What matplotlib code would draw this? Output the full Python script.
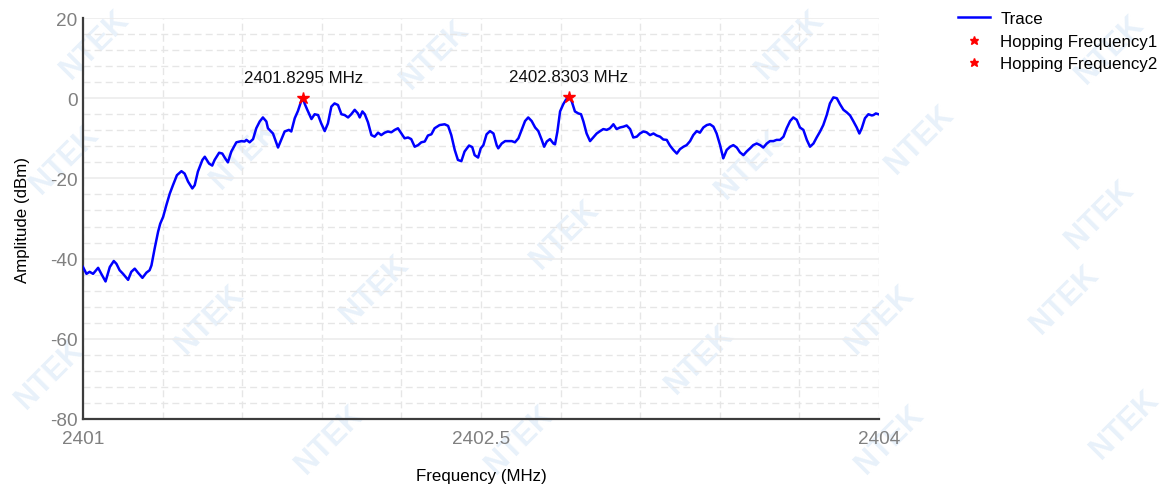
import numpy as np
import matplotlib
matplotlib.use("Agg")
import matplotlib.pyplot as plt
from matplotlib.ticker import FixedLocator, MultipleLocator

plt.rcParams['font.family'] = ['Liberation Sans', 'DejaVu Sans']
plt.rcParams['axes.unicode_minus'] = False

# ---------------- data ----------------
freq_mhz = [
    2401.000, 2401.013, 2401.025, 2401.038, 2401.057, 2401.069, 2401.085, 2401.101,
    2401.116, 2401.126, 2401.138, 2401.151, 2401.170, 2401.182, 2401.195, 2401.207,
    2401.224, 2401.239, 2401.251, 2401.258, 2401.270, 2401.283, 2401.291, 2401.302,
    2401.314, 2401.327, 2401.339, 2401.354, 2401.371, 2401.383, 2401.396, 2401.412,
    2401.421, 2401.433, 2401.450, 2401.459, 2401.475, 2401.487, 2401.496, 2401.513,
    2401.525, 2401.534, 2401.546, 2401.559, 2401.578, 2401.597, 2401.609, 2401.616,
    2401.628, 2401.641, 2401.653, 2401.666, 2401.678, 2401.691, 2401.697, 2401.716,
    2401.735, 2401.747, 2401.760, 2401.776, 2401.785, 2401.798, 2401.810, 2401.823,
    2401.8295, 2401.835, 2401.844, 2401.861, 2401.873, 2401.886, 2401.898, 2401.911,
    2401.923, 2401.936, 2401.948, 2401.961, 2401.974, 2401.986, 2401.999, 2402.011,
    2402.024, 2402.036, 2402.043, 2402.053, 2402.062, 2402.074, 2402.087, 2402.099,
    2402.112, 2402.124, 2402.137, 2402.149, 2402.162, 2402.175, 2402.187, 2402.200,
    2402.212, 2402.225, 2402.237, 2402.250, 2402.263, 2402.275, 2402.288, 2402.300,
    2402.313, 2402.325, 2402.344, 2402.363, 2402.376, 2402.388, 2402.401, 2402.413,
    2402.426, 2402.438, 2402.455, 2402.467, 2402.476, 2402.489, 2402.499,
    2402.509, 2402.521, 2402.534, 2402.547, 2402.559, 2402.565, 2402.578, 2402.591,
    2402.603, 2402.616, 2402.628, 2402.641, 2402.653, 2402.666, 2402.678, 2402.691,
    2402.704, 2402.716, 2402.729, 2402.738, 2402.748, 2402.760, 2402.773, 2402.779,
    2402.788, 2402.798, 2402.810, 2402.820, 2402.8303, 2402.842, 2402.854, 2402.867,
    2402.877, 2402.886, 2402.898, 2402.911, 2402.923, 2402.936, 2402.949, 2402.961,
    2402.974, 2402.986, 2402.999, 2403.011, 2403.024, 2403.037, 2403.049, 2403.062,
    2403.074, 2403.087, 2403.099, 2403.112, 2403.124, 2403.137, 2403.150, 2403.162,
    2403.175, 2403.187, 2403.200, 2403.212, 2403.225, 2403.238, 2403.250, 2403.263,
    2403.275, 2403.288, 2403.300, 2403.313, 2403.325, 2403.338, 2403.351, 2403.363,
    2403.376, 2403.388, 2403.401, 2403.413, 2403.426, 2403.439, 2403.451, 2403.464,
    2403.476, 2403.489, 2403.501, 2403.514, 2403.526, 2403.539, 2403.552, 2403.564,
    2403.577, 2403.589, 2403.602, 2403.614, 2403.627, 2403.640, 2403.652, 2403.665,
    2403.677, 2403.690, 2403.702, 2403.715, 2403.728, 2403.740, 2403.753, 2403.765,
    2403.778, 2403.790, 2403.803, 2403.815, 2403.828, 2403.841, 2403.853, 2403.866,
    2403.878, 2403.891, 2403.903, 2403.916, 2403.926, 2403.935, 2403.947, 2403.960,
    2403.973, 2403.979, 2403.988, 2403.998,
]
amplitude_dbm = [
    -42.1, -43.8, -43.3, -43.8, -42.3, -43.8, -45.7, -42.1,
    -40.6, -41.3, -42.9, -43.8, -45.3, -43.3, -42.5, -43.5,
    -44.8, -43.5, -42.9, -41.7, -37.5, -33.3, -31.3, -29.6,
    -26.7, -23.8, -21.7, -19.2, -18.2, -18.8, -20.8, -22.5,
    -21.7, -18.3, -15.4, -14.6, -16.3, -16.8, -15.4, -13.6,
    -13.8, -14.8, -16.0, -13.3, -11.0, -10.7, -10.8, -10.4,
    -11.0, -10.2, -7.5, -5.8, -4.8, -5.8, -7.5, -8.8,
    -12.3, -10.4, -8.3, -7.9, -8.3, -5.0, -3.2, -0.6,
    0.1, -1.3, -2.7, -5.2, -4.0, -4.2, -6.3, -8.2,
    -6.3, -2.1, -1.3, -1.7, -4.0, -4.2, -4.8, -4.0,
    -2.9, -3.8, -4.8, -3.3, -4.0, -6.0, -9.2, -9.6,
    -8.6, -9.2, -8.6, -8.3, -8.5, -7.9, -7.5, -8.8,
    -10.0, -9.8, -10.2, -12.1, -11.7, -11.0, -10.8, -9.3,
    -9.0, -7.5, -6.7, -6.5, -6.9, -9.2, -12.9, -15.4,
    -15.7, -13.3, -11.8, -12.2, -14.2, -14.8, -12.5,
    -11.7, -9.0, -8.2, -8.8, -11.7, -12.5, -11.3, -10.7,
    -10.7, -10.7, -11.0, -10.0, -7.9, -5.7, -4.8, -5.7,
    -7.3, -8.2, -10.4, -12.1, -10.8, -10.2, -11.3, -11.5,
    -8.3, -3.3, -1.5, -0.4, 0.4, -0.8, -3.3, -3.8,
    -4.0, -5.8, -8.8, -10.7, -9.8, -8.8, -8.2, -7.7,
    -7.9, -7.5, -6.5, -7.7, -7.3, -7.1, -6.8, -7.7,
    -9.8, -9.6, -8.8, -8.3, -8.5, -9.2, -8.8, -9.3,
    -9.6, -10.3, -10.4, -11.8, -12.9, -13.8, -12.7, -12.1,
    -11.7, -10.7, -9.2, -8.2, -8.6, -7.3, -6.7, -6.5,
    -7.1, -8.8, -11.7, -15.0, -12.9, -12.1, -11.7, -12.3,
    -13.5, -14.2, -13.3, -12.5, -11.7, -11.3, -11.7, -12.3,
    -11.3, -10.7, -10.7, -10.4, -10.4, -9.6, -7.5, -5.7,
    -4.8, -5.4, -7.3, -7.9, -10.4, -12.1, -11.3, -9.8,
    -8.3, -6.7, -4.2, -1.3, 0.2, 0.0, -1.5, -2.9,
    -3.5, -4.3, -5.7, -7.3, -8.8, -7.5, -5.0, -4.0,
    -4.3, -4.2, -3.8, -4.0,
]
hop_names = ["Hopping Frequency1", "Hopping Frequency2"]
hop_freq_mhz = [2401.8295, 2402.8303]
hop_amp_dbm = [0.1, 0.4]

x_ticks = [2401, 2402.5, 2404]
x_tick_labels = ["2401", "2402.5", "2404"]
y_ticks = [-80, -60, -40, -20, 0, 20]

# ---------------- figure ----------------
W, H = 1171, 489
fig = plt.figure(figsize=(W / 100, H / 100), dpi=100)
ax = fig.add_axes([83 / W, 1 - 420 / H, (879 - 83) / W, (420 - 19) / H])
ax.patch.set_alpha(0)

# watermark (faint, tiled, kept inside the canvas)
wm_centers = [(95, 45), (435, 55), (790, 45), (1110, 50),
              (65, 160), (245, 155), (565, 235), (750, 165), (920, 140), (1100, 215),
              (210, 320), (50, 375), (375, 290), (700, 360), (880, 320), (1065, 300),
              (520, 440), (330, 440), (1125, 425), (890, 440)]
for cx, cy in wm_centers:
    fig.text(cx / W, 1 - cy / H, "NTEK", rotation=45, ha="center", va="center",
             fontsize=22, fontweight="bold", color="#e8f1fa", zorder=-5)

ax.plot(freq_mhz, amplitude_dbm, color="#0000ff", lw=1.8, label="Trace", zorder=3)
for name, f, a in zip(hop_names, hop_freq_mhz, hop_amp_dbm):
    ax.plot([f], [a], linestyle="none", marker="*", ms=9, color="#ff0000",
            label=name, zorder=4)
    ax.annotate(f"{f:.4f} MHz", (f, a), xytext=(0, 16), textcoords="offset pixels",
                ha="center", va="baseline", fontsize=12.2, color="#111111")

ax.set_xlim(2401, 2404)
ax.set_ylim(-80, 20)
ax.xaxis.set_major_locator(FixedLocator(x_ticks))
ax.set_xticklabels(x_tick_labels)
ax.xaxis.set_minor_locator(FixedLocator(list(np.arange(2401, 2404.001, 0.3))))
ax.yaxis.set_major_locator(FixedLocator(y_ticks))
ax.yaxis.set_minor_locator(MultipleLocator(4))

ax.grid(True, which="major", axis="y", color="#ececec", lw=1.2, ls="-", zorder=0)
ax.grid(True, which="minor", axis="y", color="#e6e6e6", lw=1.0, ls=(0, (5, 3)), zorder=0)
ax.grid(True, which="both", axis="x", color="#e6e6e6", lw=1.0, ls=(0, (5, 3)), zorder=0)

ax.tick_params(which="both", length=0)
ax.tick_params(axis="x", pad=8, labelsize=13.7, labelcolor="#808080")
ax.tick_params(axis="y", pad=4, labelsize=13.7, labelcolor="#808080")

for s in ["top", "right"]:
    ax.spines[s].set_visible(False)
for s in ["left", "bottom"]:
    ax.spines[s].set_color("#3c3c3c")
    ax.spines[s].set_linewidth(1.6)

ax.set_xlabel("Frequency (MHz)", fontsize=12.2, labelpad=15)
ax.set_ylabel("Amplitude (dBm)", fontsize=12.2, labelpad=14)

fig.legend(loc="upper left", bbox_to_anchor=(958 / W, 1 - 12 / H), frameon=False,
           fontsize=12.2, borderpad=0, borderaxespad=0, handlelength=1.9,
           handletextpad=0.6, labelspacing=0.45, markerscale=0.7)

fig.savefig("out.png", dpi=100)
